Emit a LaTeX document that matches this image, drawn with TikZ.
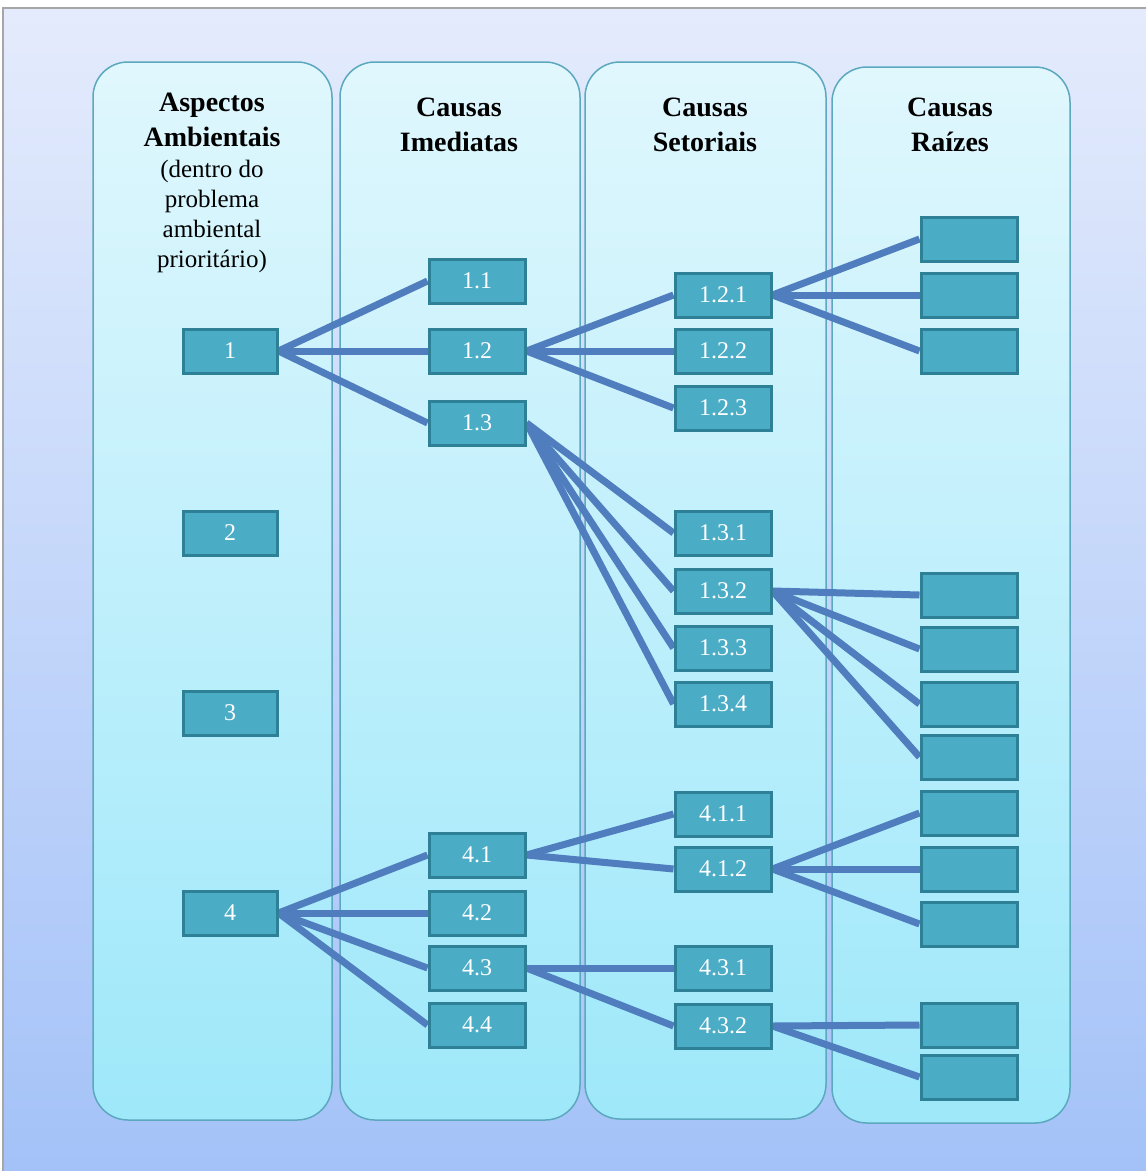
\documentclass[tikz,border=0pt]{standalone}
\usepackage{fontspec}
\setmainfont{Liberation Serif}
\usetikzlibrary{positioning,backgrounds}

\definecolor{fundoTopo}{RGB}{228,235,252}
\definecolor{fundoBase}{RGB}{164,194,248}
\definecolor{colTopo}{RGB}{224,247,253}
\definecolor{colBase}{RGB}{158,232,250}
\definecolor{colBorda}{RGB}{92,168,190}
\definecolor{caixa}{RGB}{75,172,198}
\definecolor{caixaBorda}{RGB}{46,128,150}
\definecolor{ligacao}{RGB}{79,125,190}

\pgfdeclarelayer{ligacoes}
\pgfsetlayers{background,ligacoes,main}

\tikzset{
  coluna/.style={top color=colTopo, bottom color=colBase, draw=colBorda, line width=1.5pt, rounded corners=35pt},
  titulo/.style={anchor=north, align=center, inner sep=0pt, font=\fontsize{28}{35}\selectfont\bfseries},
  subtitulo/.style={anchor=north, align=center, inner sep=0pt, font=\fontsize{25}{30}\selectfont},
  caixa/.style={draw=caixaBorda, fill=caixa, line width=3pt, rectangle, minimum width=96pt, minimum height=44pt, inner sep=0pt, text=white, font=\fontsize{24}{28}\selectfont},
  liga/.style={draw=ligacao, line width=7pt}
}

\begin{document}
\begin{tikzpicture}[x=1pt, y=-1pt]
  \useasboundingbox (0,0) rectangle (1146,1171);

  \begin{scope}[on background layer]
    \fill[white] (0,0) rectangle (1146,1171);
    \shade[top color=fundoTopo, bottom color=fundoBase] (3,8) rectangle (1146,1171);
    \draw[gray!70, line width=1.5pt] (3,1171) -- (3,8) -- (1146,8);
    % colunas
    \shadedraw[coluna] (93,62) rectangle (332,1120);
    \shadedraw[coluna] (340,62) rectangle (580,1120);
    \shadedraw[coluna] (585,62) rectangle (826,1119);
    \shadedraw[coluna] (832,67) rectangle (1070,1123);
  \end{scope}

  % titulos
  \node[titulo] (tit1) at (212,93) {Aspectos\\Ambientais};
  \node[subtitulo, below=13pt of tit1] (sub1) {(dentro do\\problema\\ambiental\\prioritário)};
  \node[titulo] (tit2) at (459,98) {Causas\\Imediatas};
  \node[titulo] (tit3) at (705,98) {Causas\\Setoriais};
  \node[titulo] (tit4) at (950,98) {Causas\\Raízes};

  % aspectos
  \node[caixa, minimum width=94pt] (n1) at (230,351) {1};
  \node[caixa, minimum width=94pt] (n2) at (230,533) {2};
  \node[caixa, minimum width=94pt] (n3) at (230,713) {3};
  \node[caixa, minimum width=94pt] (n4) at (230,913) {4};

  % causas imediatas
  \node[caixa] (n11) at (477,281) {1.1};
  \node[caixa] (n12) at (477,351) {1.2};
  \node[caixa] (n13) at (477,423) {1.3};
  \node[caixa] (n41) at (477,855) {4.1};
  \node[caixa] (n42) at (477,913) {4.2};
  \node[caixa] (n43) at (477,968) {4.3};
  \node[caixa] (n44) at (477,1025) {4.4};

  % causas setoriais
  \node[caixa] (n121) at (723,295) {1.2.1};
  \node[caixa] (n122) at (723,351) {1.2.2};
  \node[caixa] (n123) at (723,408) {1.2.3};
  \node[caixa] (n131) at (723,533) {1.3.1};
  \node[caixa] (n132) at (723,591) {1.3.2};
  \node[caixa] (n133) at (723,648) {1.3.3};
  \node[caixa] (n134) at (723,704) {1.3.4};
  \node[caixa] (n411) at (723,814) {4.1.1};
  \node[caixa] (n412) at (723,869) {4.1.2};
  \node[caixa] (n431) at (723,968) {4.3.1};
  \node[caixa] (n432) at (723,1026) {4.3.2};

  % causas raizes
  \node[caixa] (r1) at (969,239) {};
  \node[caixa] (r2) at (969,295) {};
  \node[caixa] (r3) at (969,351) {};
  \node[caixa] (r4) at (969,595) {};
  \node[caixa] (r5) at (969,649) {};
  \node[caixa] (r6) at (969,704) {};
  \node[caixa] (r7) at (969,757) {};
  \node[caixa] (r8) at (969,813) {};
  \node[caixa] (r9) at (969,869) {};
  \node[caixa] (r10) at (969,924) {};
  \node[caixa] (r11) at (969,1025) {};
  \node[caixa] (r12) at (969,1077) {};

  \begin{pgfonlayer}{ligacoes}
    \draw[liga] (n1.east) -- (n11.west);
    \draw[liga] (n1.east) -- (n12.west);
    \draw[liga] (n1.east) -- (n13.west);
    \draw[liga] (n12.east) -- (n121.west);
    \draw[liga] (n12.east) -- (n122.west);
    \draw[liga] (n12.east) -- (n123.west);
    \draw[liga] (n13.east) -- (n131.west);
    \draw[liga] (n13.east) -- (n132.west);
    \draw[liga] (n13.east) -- (n133.west);
    \draw[liga] (n13.east) -- (n134.west);
    \draw[liga] (n121.east) -- (r1.west);
    \draw[liga] (n121.east) -- (r2.west);
    \draw[liga] (n121.east) -- (r3.west);
    \draw[liga] (n132.east) -- (r4.west);
    \draw[liga] (n132.east) -- (r5.west);
    \draw[liga] (n132.east) -- (r6.west);
    \draw[liga] (n132.east) -- (r7.west);
    \draw[liga] (n4.east) -- (n41.west);
    \draw[liga] (n4.east) -- (n42.west);
    \draw[liga] (n4.east) -- (n43.west);
    \draw[liga] (n4.east) -- (n44.west);
    \draw[liga] (n41.east) -- (n411.west);
    \draw[liga] (n41.east) -- (n412.west);
    \draw[liga] (n43.east) -- (n431.west);
    \draw[liga] (n43.east) -- (n432.west);
    \draw[liga] (n412.east) -- (r8.west);
    \draw[liga] (n412.east) -- (r9.west);
    \draw[liga] (n412.east) -- (r10.west);
    \draw[liga] (n432.east) -- (r11.west);
    \draw[liga] (n432.east) -- (r12.west);
  \end{pgfonlayer}
\end{tikzpicture}
\end{document}
